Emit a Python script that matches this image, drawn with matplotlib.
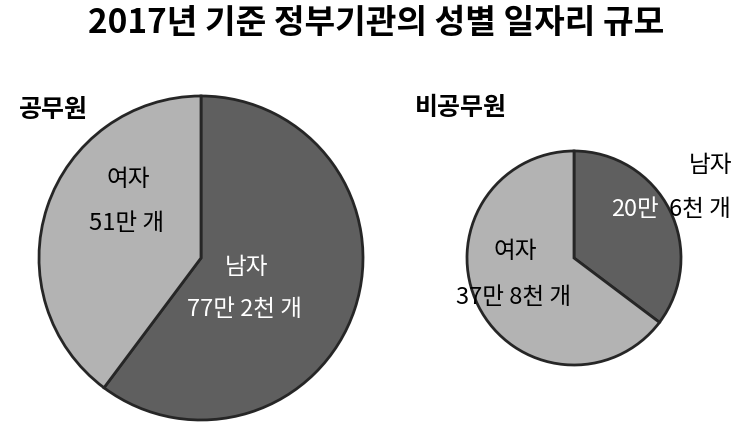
import matplotlib.pyplot as plt

plt.rcParams['font.family'] = ['Noto Sans CJK KR', 'DejaVu Sans']

title = "2017년 기준 정부기관의 성별 일자리 규모"
groups = ["공무원", "비공무원"]
genders = ["남자", "여자"]
# 단위: 천 개
civil = [772, 510]
noncivil = [206, 378]
civil_labels = ["77만 2천 개", "51만 개"]
noncivil_labels = ["20만 6천 개", "37만 8천 개"]

dark = '#5f5f5f'
light = '#b3b3b3'
edge = '#262626'
W, H = 753, 432

fig = plt.figure(figsize=(W / 100, H / 100), dpi=100)
ax = fig.add_axes([0, 0, 1, 1])

wp = dict(edgecolor=edge, linewidth=2)
ax.pie(civil, colors=[dark, light], startangle=90, counterclock=False,
       center=(201, H - 258), radius=162, wedgeprops=wp)
ax.pie(noncivil, colors=[dark, light], startangle=90, counterclock=False,
       center=(574, H - 258), radius=107, wedgeprops=wp)

ax.set_xlim(0, W)
ax.set_ylim(0, H)
ax.set_aspect('equal')
ax.axis('off')

fig.text(0.5, 1 - 23 / H, title, ha='center', va='center',
         fontsize=24, fontweight='bold')
ax.text(53, H - 110, groups[0], ha='center', va='center', fontsize=18, fontweight='bold')
ax.text(461, H - 108, groups[1], ha='center', va='center', fontsize=18, fontweight='bold')

fs = 17
# 공무원
ax.text(247, H - 268, genders[0], ha='center', va='center', fontsize=fs, color='white')
ax.text(245, H - 310, civil_labels[0], ha='center', va='center', fontsize=fs, color='white')
ax.text(128, H - 180, genders[1], ha='center', va='center', fontsize=fs)
ax.text(127, H - 223, civil_labels[1], ha='center', va='center', fontsize=fs)

# 비공무원
ax.text(711, H - 166, genders[0], ha='center', va='center', fontsize=fs)
a, b = noncivil_labels[0].split(' ', 1)
ax.text(611, H - 210, a, ha='left', va='center', fontsize=fs, color='white')
ax.text(669, H - 210, b, ha='left', va='center', fontsize=fs)
ax.text(515, H - 252, genders[1], ha='center', va='center', fontsize=fs)
ax.text(514, H - 297, noncivil_labels[1], ha='center', va='center', fontsize=fs)

fig.savefig('out.png', dpi=100, facecolor='white')
